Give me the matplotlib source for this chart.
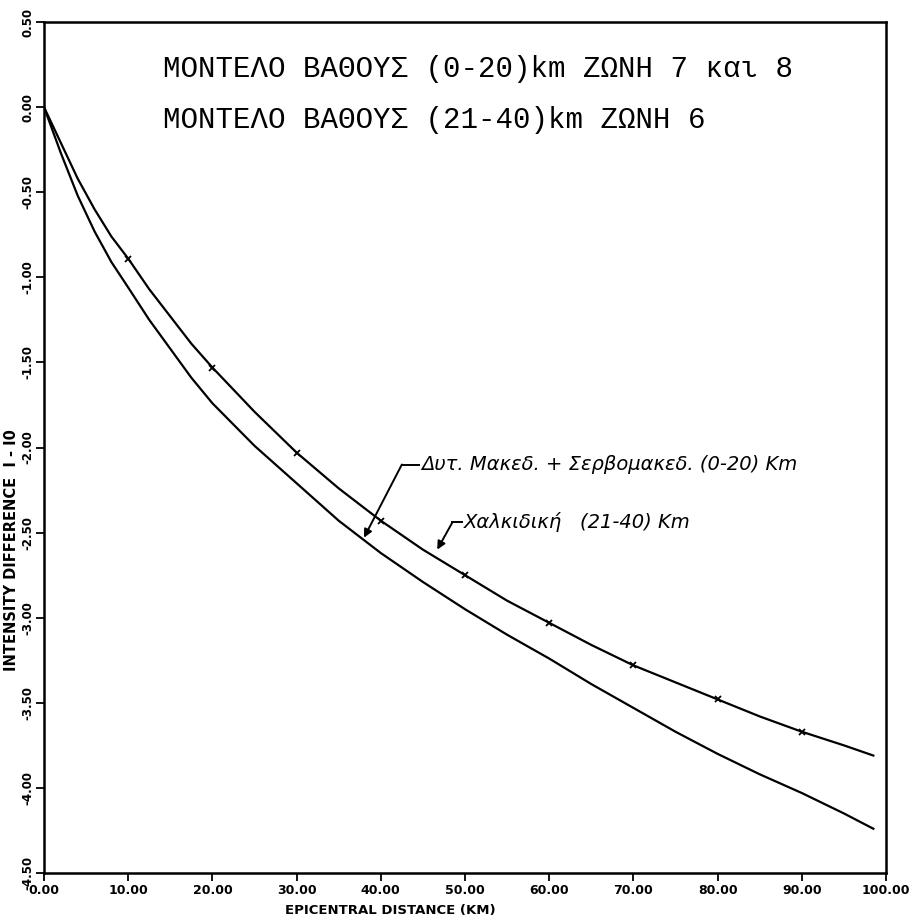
import numpy as np
import matplotlib
matplotlib.use('Agg')
import matplotlib.pyplot as plt

######## DATA ########

# upper curve, Chalkidiki (21-40) km, with markers every 10 km
dist_up = [0, 2, 4, 6, 8, 10, 12.5, 15, 17.5, 20, 25, 30, 35, 40, 45, 50,
           55, 60, 65, 70, 75, 80, 85, 90, 95, 98.5]
idiff_up = [0.0, -0.21, -0.42, -0.60, -0.76, -0.89, -1.07, -1.23, -1.39, -1.53,
            -1.79, -2.03, -2.24, -2.43, -2.60, -2.75, -2.90, -3.03, -3.16,
            -3.28, -3.38, -3.48, -3.58, -3.67, -3.75, -3.81]
mark_x = [10, 20, 30, 40, 50, 60, 70, 80, 90]
mark_y = [-0.89, -1.53, -2.03, -2.43, -2.75, -3.03, -3.28, -3.48, -3.67]

# lower curve, W. Macedonia + Serbomacedonian (0-20) km
dist_lo = [0, 2, 4, 6, 8, 10, 12.5, 15, 17.5, 20, 25, 30, 35, 40, 45, 50,
           55, 60, 65, 70, 75, 80, 85, 90, 95, 98.5]
idiff_lo = [0.0, -0.27, -0.52, -0.73, -0.91, -1.06, -1.25, -1.42, -1.59, -1.74,
            -1.99, -2.21, -2.43, -2.62, -2.79, -2.95, -3.10, -3.24, -3.39,
            -3.53, -3.67, -3.80, -3.92, -4.03, -4.15, -4.24]

xticks = [0, 10, 20, 30, 40, 50, 60, 70, 80, 90, 100]
yticks = [0.5, 0.0, -0.5, -1.0, -1.5, -2.0, -2.5, -3.0, -3.5, -4.0, -4.5]

title1 = 'ΜΟΝΤΕΛΟ ΒΑΘΟΥΣ (0-20)km ΖΩΝΗ 7 και 8'
title2 = 'ΜΟΝΤΕΛΟ ΒΑΘΟΥΣ (21-40)km ΖΩΝΗ 6'
lab_lo = 'Δυτ. Μακεδ. + Σερβομακεδ. (0-20) Km'
lab_up = 'Χαλκιδική   (21-40) Km'

######## FIGURE ########

fig = plt.figure(figsize=(9.24, 9.21), dpi=100)
ax = fig.add_axes([44/924, 1-873/921, (886-44)/924, (873-22)/921])

ax.plot(dist_up, idiff_up, color='k', lw=1.6)
ax.plot(mark_x, mark_y, ls='none', marker='x', ms=5, mew=1.3, color='k')
ax.plot(dist_lo, idiff_lo, color='k', lw=1.6)

ax.set_xlim(0, 100)
ax.set_ylim(-4.5, 0.5)
ax.set_xticks(xticks)
ax.set_yticks(yticks)
ax.set_xticklabels(['%.2f' % v for v in xticks], fontsize=9, fontweight='bold')
ax.set_yticklabels(['%.2f' % v for v in yticks], fontsize=8.5, fontweight='bold',
                   rotation=90, va='center')
ax.tick_params(direction='out', length=6, width=1.3, pad=2)
ax.tick_params(axis='y', pad=1)
for s in ax.spines.values():
    s.set_linewidth(1.8)

# axis titles placed where the plotter put them
fig.text(390/924, 1-910/921, 'EPICENTRAL DISTANCE (KM)', ha='center', va='center',
         fontsize=9.5, fontweight='bold')
fig.text(12/924, 1-550/921, 'INTENSITY DIFFERENCE  I - I0', ha='center', va='center',
         rotation=90, fontsize=10.5, fontweight='bold')

# model headers (typewriter)
ax.text(163/924, 1-69/921, title1, transform=fig.transFigure, fontsize=21,
        family='Liberation Mono', va='center', ha='left')
ax.text(163/924, 1-120/921, title2, transform=fig.transFigure, fontsize=21,
        family='Liberation Mono', va='center', ha='left')

# leader arrows with labels
ax.annotate('', xy=(38.0, -2.53), xytext=(42.5, -2.10),
            arrowprops=dict(arrowstyle='-|>', lw=1.4, color='k', mutation_scale=12,
                            shrinkA=0, shrinkB=0))
ax.plot([42.5, 44.5], [-2.10, -2.10], color='k', lw=1.4)
ax.text(44.8, -2.10, lab_lo, fontsize=14, style='italic', va='center', ha='left')

ax.annotate('', xy=(46.7, -2.60), xytext=(48.5, -2.44),
            arrowprops=dict(arrowstyle='-|>', lw=1.4, color='k', mutation_scale=12,
                            shrinkA=0, shrinkB=0))
ax.plot([48.5, 49.7], [-2.44, -2.44], color='k', lw=1.4)
ax.text(49.9, -2.44, lab_up, fontsize=14, style='italic', va='center', ha='left')

plt.savefig('out.png', dpi=100)
plt.close()
